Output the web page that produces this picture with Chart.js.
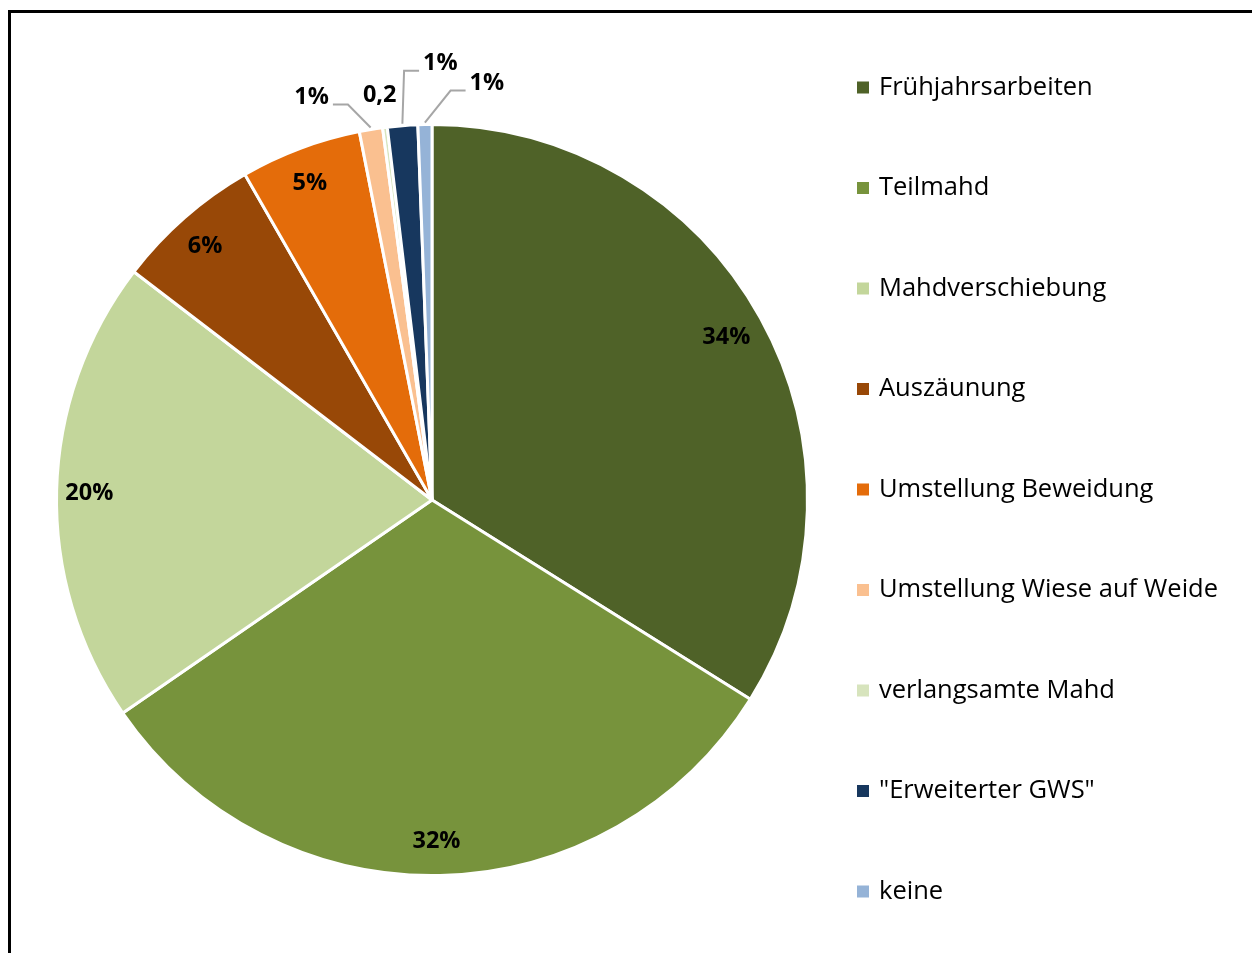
<!DOCTYPE html>
<html>
<head>
<meta charset="utf-8">
<script src="https://cdn.jsdelivr.net/npm/chart.js@4/dist/chart.umd.min.js"></script>
<style>
  html, body { margin: 0; padding: 0; background: #fff; }
  canvas { display: block; }
</style>
</head>
<body>
<canvas id="chart" width="1252" height="953"></canvas>
<script>
// categories and shares (percent)
const categories = [
  'Frühjahrsarbeiten',
  'Teilmahd',
  'Mahdverschiebung',
  'Auszäunung',
  'Umstellung Beweidung',
  'Umstellung Wiese auf Weide',
  'verlangsamte Mahd',
  '"Erweiterter GWS"',
  'keine'
]
const shares = [33.9, 31.5, 20.0, 6.3, 5.2, 1.0, 0.2, 1.3, 0.6]
const valueLabels = ['34%', '32%', '20%', '6%', '5%', '1%', '0,2', '1%', '1%']
const colors = ['#4f6228', '#77933c', '#c3d69b', '#984807', '#e46c0a', '#fac090', '#d7e4bd', '#17375e', '#95b3d7']

// placement of the small labels that sit outside the pie (offset from arc point)
const outside = {
  5: { dx: -59, dy: -30, leader: true },
  6: { dx: -5, dy: -30, leader: false },
  7: { dx: 38, dy: -60, leader: true },
  8: { dx: 62, dy: -39, leader: true }
}

const frame = {
  id: 'frame',
  beforeDraw (chart) {
    const ctx = chart.ctx
    ctx.save()
    ctx.fillStyle = '#fff'
    ctx.fillRect(0, 0, chart.width, chart.height)
    ctx.fillStyle = '#000'
    ctx.fillRect(8, 10, chart.width - 8, 3)
    ctx.fillRect(8, 10, 3, chart.height - 10)
    ctx.restore()
  }
}

const sliceLabels = {
  id: 'sliceLabels',
  afterDatasetsDraw (chart) {
    const ctx = chart.ctx
    const arcs = chart.getDatasetMeta(0).data
    ctx.save()
    ctx.font = 'bold 23.5px "Open Sans"'
    ctx.fillStyle = '#000'
    ctx.textAlign = 'center'
    ctx.textBaseline = 'middle'
    arcs.forEach((arc, i) => {
      const p = arc.getProps(['x', 'y', 'startAngle', 'endAngle', 'outerRadius'], true)
      const mid = (p.startAngle + p.endAngle) / 2
      const o = outside[i]
      if (!o) {
        const r = p.outerRadius * 0.905
        ctx.fillText(valueLabels[i], p.x + Math.cos(mid) * r - 3, p.y + Math.sin(mid) * r + 2)
        return
      }
      const ax = p.x + Math.cos(mid) * (p.outerRadius + 2)
      const ay = p.y + Math.sin(mid) * (p.outerRadius + 2)
      const lx = ax + o.dx
      const ly = ay + o.dy
      ctx.fillText(valueLabels[i], lx, ly)
      if (o.leader) {
        const w = ctx.measureText(valueLabels[i]).width
        const side = o.dx < 0 ? 1 : -1
        const x1 = lx + side * (w / 2 + 4)
        const x2 = x1 + side * 15
        const yl = ly + 7
        ctx.beginPath()
        ctx.strokeStyle = '#a6a6a6'
        ctx.lineWidth = 2
        ctx.moveTo(x1, yl)
        ctx.lineTo(x2, yl)
        ctx.lineTo(ax, ay)
        ctx.stroke()
      }
    })
    ctx.restore()
  }
}

const sideLegend = {
  id: 'sideLegend',
  afterDraw (chart) {
    const ctx = chart.ctx
    const labels = chart.data.labels
    const bg = chart.data.datasets[0].backgroundColor
    ctx.save()
    ctx.font = '25.5px "Open Sans"'
    ctx.textBaseline = 'middle'
    ctx.textAlign = 'left'
    labels.forEach((t, i) => {
      const y = 87.5 + i * 100.5
      ctx.fillStyle = bg[i]
      ctx.fillRect(857, y - 6, 12, 12)
      ctx.fillStyle = '#000'
      ctx.fillText(t, 879, y)
    })
    ctx.restore()
  }
}

new Chart(document.getElementById('chart'), {
  type: 'pie',
  data: {
    labels: categories,
    datasets: [{
      data: shares,
      backgroundColor: colors,
      borderColor: '#fff',
      borderWidth: 3
    }]
  },
  options: {
    responsive: false,
    animation: false,
    layout: {
      padding: { left: 55, top: 123, right: 443, bottom: 76 }
    },
    plugins: {
      legend: { display: false },
      tooltip: { enabled: false }
    }
  },
  plugins: [frame, sliceLabels, sideLegend]
})
</script>
</body>
</html>
